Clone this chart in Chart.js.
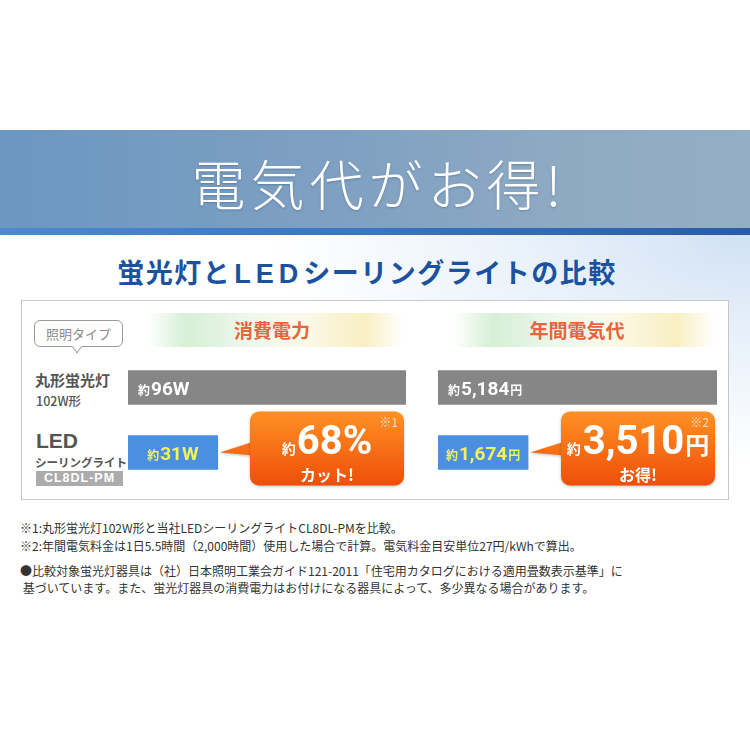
<!DOCTYPE html>
<html lang="ja">
<head>
<meta charset="utf-8">
<script src="https://cdn.jsdelivr.net/npm/chart.js@4.4.0/dist/chart.umd.min.js"></script>
<style>
  body { margin: 0; width: 750px; height: 750px; background: #fff; position: relative; overflow: hidden;
         font-family: "Noto Sans CJK JP", sans-serif; }
  .abs { position: absolute; }
  .glow { left: 0; top: 235px; width: 750px; height: 300px;
          background: radial-gradient(ellipse 480px 230px at 100% 0%, #d0e1f4 0%, rgba(214,229,246,0.6) 40%, rgba(255,255,255,0) 100%); }
  .banner { left: 0; top: 130px; width: 750px; height: 98px;
            background: linear-gradient(to right, #6b97c1 0%, #7fa0c2 45%, #8eaac3 75%, #94aec5 100%); }
  .stripe { left: 0; top: 228px; width: 750px; height: 7px;
            background: linear-gradient(to right, #4b89d4 0%, #3a74c2 50%, #2a5ba8 100%); }
  .title { left: 4px; top: 148px; width: 750px; line-height: 70px; text-align: center; color: #fff;
           font-size: 54px; font-weight: 300; letter-spacing: 5px; text-shadow: 0 1px 2px rgba(40,70,110,0.35); }
  .subtitle { left: 0; top: 252px; width: 734px; line-height: 40px; text-align: center; color: #1b52a0;
              font-size: 27px; font-weight: bold; letter-spacing: 1.5px; }
  .subtitle span { letter-spacing: 5px; font-family: "Liberation Sans", sans-serif; margin-left: 3px; }
  .panel { left: 21px; top: 300px; width: 706px; height: 198px; border: 1px solid #c6c6c6; background: #fff; }
  .strip { top: 313px; height: 34px;
           background: linear-gradient(to right, rgba(210,238,210,0) 0%, #d6efd6 15%, #eef8ec 40%, #fbf9ea 60%, #f8efc2 85%, rgba(248,239,194,0) 100%); }
  .strip-text { top: 313px; line-height: 34px; color: #e8643c; font-size: 19px; font-weight: bold;
                text-align: center; width: 200px; }
  .bubble { left: 34px; top: 320px; width: 87px; height: 25px; border: 1px solid #9c9c9c; border-radius: 6px;
            background: #fff; color: #8a8a8a; font-size: 13px; line-height: 25px; text-align: center; }
  .bubble::after { content: ""; position: absolute; left: 38px; bottom: -5px; width: 7px; height: 7px; background: #fff;
                   border-right: 1px solid #9c9c9c; border-bottom: 1px solid #9c9c9c; transform: rotate(45deg) skew(8deg, 8deg); }
  .lbl { color: #555; font-weight: bold; white-space: nowrap; }
  .code { left: 36px; top: 471px; width: 87px; height: 15px; background: #acacac; color: #fff; font-weight: bold;
          font-family: "Liberation Sans", sans-serif; font-size: 12.5px; line-height: 15px; text-align: center; letter-spacing: 1px; }
  .note { left: 20px; font-size: 12px; color: #333; white-space: nowrap; line-height: 16px; }
  canvas { position: absolute; }
</style>
</head>
<body>
<div class="abs glow"></div>
<div class="abs banner"></div>
<div class="abs stripe"></div>
<div class="abs title">電気代がお得!</div>
<div class="abs subtitle">蛍光灯と<span>LED</span>シーリングライトの比較</div>
<div class="abs panel"></div>
<div class="abs strip" style="left:147px;width:256px"></div>
<div class="abs strip" style="left:453px;width:262px"></div>
<div class="abs strip-text" style="left:172px">消費電力</div>
<div class="abs strip-text" style="left:477px">年間電気代</div>
<div class="abs bubble">照明タイプ</div>
<div class="abs lbl" style="left:35px;top:369px;font-size:15px">丸形蛍光灯</div>
<div class="abs lbl" style="left:36px;top:391px;font-size:12.5px;font-weight:500">102W形</div>
<div class="abs lbl" style="left:36px;top:429px;font-size:21px;font-family:'Liberation Sans',sans-serif">LED</div>
<div class="abs lbl" style="left:35px;top:454px;font-size:11.5px">シーリングライト</div>
<div class="abs code">CL8DL-PM</div>
<canvas id="wattChart" width="290" height="135" style="left:128px;top:355px"></canvas>
<canvas id="yenChart" width="290" height="135" style="left:438px;top:355px"></canvas>
<div class="abs note" style="top:520px">※1:丸形蛍光灯102W形と当社LEDシーリングライトCL8DL-PMを比較。</div>
<div class="abs note" style="top:538px">※2:年間電気料金は1日5.5時間（2,000時間）使用した場合で計算。電気料金目安単位27円/kWhで算出。</div>
<div class="abs note" style="top:563px">●比較対象蛍光灯器具は（社）日本照明工業会ガイド121-2011「住宅用カタログにおける適用畳数表示基準」に</div>
<div class="abs note" style="top:580px">&nbsp;基づいています。また、蛍光灯器具の消費電力はお付けになる器具によって、多少異なる場合があります。</div>
<script>
// data
const categories = ['丸形蛍光灯 102W形', 'LEDシーリングライト CL8DL-PM']
const wattValues = [96, 31]
const yenValues = [5184, 1674]
const barColors = ['#868686', '#4a8fe0']
const labelColors = ['#ffffff', '#f2f25c']

const JP = '"Noto Sans CJK JP", sans-serif'
const NUM = 'Roboto, "Noto Sans CJK JP", sans-serif'

const fmt = v => v.toLocaleString('en-US')

function drawParts(ctx, parts, x, y, align, color) {
  let total = 0
  parts.forEach(p => { ctx.font = p.font; p.w = ctx.measureText(p.text).width; total += p.w + (p.gap || 0) })
  let cx = align === 'center' ? x - total / 2 : x
  ctx.textAlign = 'left'
  ctx.textBaseline = 'alphabetic'
  ctx.fillStyle = color
  parts.forEach(p => { ctx.font = p.font; ctx.fillText(p.text, cx, y); cx += p.w + (p.gap || 0) })
}

function overlay(cfg) {
  return {
    id: 'overlay',
    afterDatasetsDraw(chart) {
      const ctx = chart.ctx
      const area = chart.chartArea
      const bars = chart.getDatasetMeta(0).data
      ctx.save()
      // axis line
      ctx.strokeStyle = '#707070'
      ctx.lineWidth = 1
      ctx.beginPath()
      ctx.moveTo(area.left - 0.5, area.top + 7)
      ctx.lineTo(area.left - 0.5, area.bottom + 2)
      ctx.stroke()

      // bar labels
      bars.forEach((bar, i) => {
        const parts = cfg.label(i)
        if (i === 0) drawParts(ctx, parts, bar.base + 10, bar.y + 7, 'left', labelColors[i])
        else drawParts(ctx, parts, (bar.base + bar.x) / 2, bar.y + 7.5, 'center', labelColors[i])
      })

      // callout
      const bar = bars[1]
      const yc = bar.y
      const right = area.right - 2, w = 154, left = right - w, top = yc - 41, h = 74
      const grad = ctx.createLinearGradient(0, top, 0, top + h)
      grad.addColorStop(0, '#ff9124')
      grad.addColorStop(1, '#ef4e08')
      ctx.save()
      ctx.shadowColor = 'rgba(0,0,0,0.25)'
      ctx.shadowBlur = 3
      ctx.shadowOffsetY = 1
      ctx.fillStyle = grad
      ctx.beginPath()
      ctx.moveTo(bar.x + 2, yc)
      ctx.lineTo(left + 4, yc - 11)
      ctx.lineTo(left + 4, yc + 3)
      ctx.closePath()
      ctx.fill()
      ctx.beginPath()
      ctx.roundRect(left, top, w, h, 9)
      ctx.fill()
      ctx.restore()

      const cx = left + w / 2
      drawParts(ctx, cfg.big, cx, yc + 1, 'center', '#ffffff')
      ctx.font = `bold 16px ${JP}`
      ctx.textAlign = 'center'
      ctx.fillText(cfg.sub, cx, yc + 28)
      ctx.font = `12px ${JP}`
      ctx.textAlign = 'right'
      ctx.fillStyle = 'rgba(255,226,205,0.95)'
      ctx.fillText(cfg.note, right - 6, top + 15)
      ctx.restore()
    }
  }
}

function makeChart(id, values, padRight, cfg) {
  return new Chart(document.getElementById(id), {
    type: 'bar',
    data: {
      labels: categories,
      datasets: [{ data: values, backgroundColor: barColors, barThickness: 34, borderWidth: 0 }]
    },
    options: {
      indexAxis: 'y',
      responsive: false,
      animation: false,
      devicePixelRatio: 1,
      layout: { padding: { left: 0, right: padRight, top: 0, bottom: 5 } },
      plugins: { legend: { display: false }, tooltip: { enabled: false } },
      scales: {
        x: { display: false, min: 0, max: Math.max(...values) },
        y: { display: false }
      }
    },
    plugins: [overlay(cfg)]
  })
}

const cutPct = Math.round((1 - wattValues[1] / wattValues[0]) * 100)
const savedYen = yenValues[0] - yenValues[1]

makeChart('wattChart', wattValues, 12, {
  label: i => [
    { text: '約', font: `bold 12px ${JP}`, gap: 1 },
    { text: wattValues[i] + 'W', font: `bold 19px ${NUM}` }
  ],
  big: [
    { text: '約', font: `bold 14px ${JP}`, gap: 1 },
    { text: cutPct + '%', font: `bold 40px ${NUM}` }
  ],
  sub: 'カット!',
  note: '※1'
})

makeChart('yenChart', yenValues, 11, {
  label: i => [
    { text: '約', font: `bold 12px ${JP}`, gap: 1 },
    { text: fmt(yenValues[i]), font: `bold 19px ${NUM}`, gap: 1 },
    { text: '円', font: `bold 12px ${JP}` }
  ],
  big: [
    { text: '約', font: `bold 14px ${JP}`, gap: 2 },
    { text: fmt(savedYen), font: `bold 40px ${NUM}`, gap: 1 },
    { text: '円', font: `bold 24px ${JP}` }
  ],
  sub: 'お得!',
  note: '※2'
})
</script>
</body>
</html>
